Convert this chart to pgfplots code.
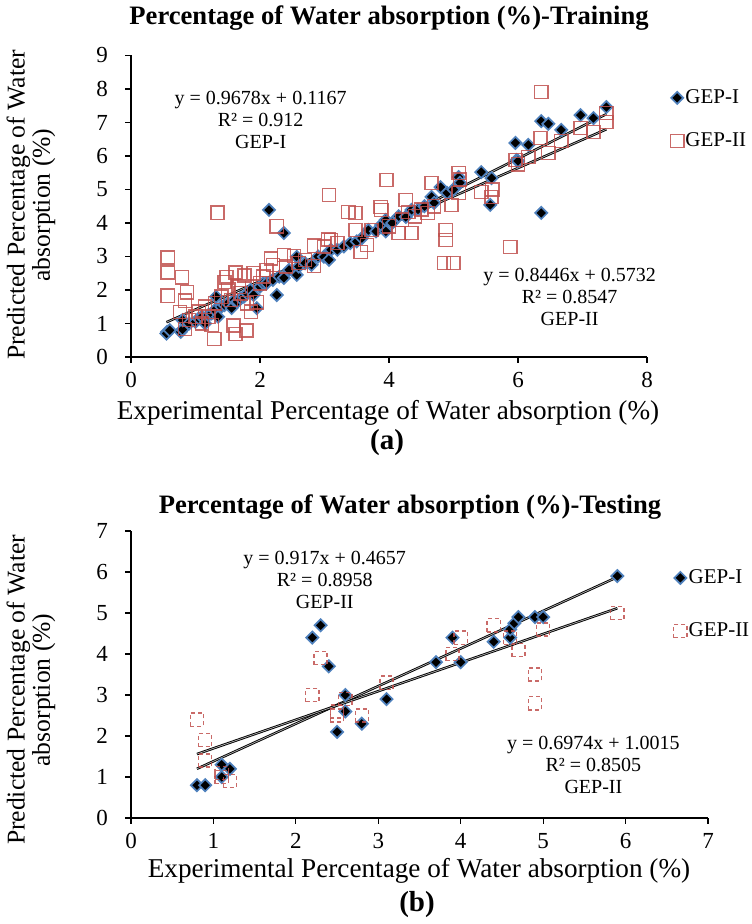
\documentclass[border=0pt]{standalone}
\usepackage{fontspec}
\setmainfont{Liberation Serif}
\usepackage{pgfplots}
\usepackage{pgfplotstable}
\pgfplotsset{compat=1.18}
\definecolor{gepblue}{RGB}{79,129,189}
\definecolor{gepred}{RGB}{192,80,77}

\pgfplotstableread{
x y
0.56 0.75
0.55 0.70
0.60 0.80
0.77 0.75
0.80 0.82
0.80 1.10
0.90 1.00
1.00 1.05
1.05 1.15
1.10 1.20
1.15 1.00
1.20 1.25
1.25 1.30
1.30 1.40
1.32 1.80
1.35 1.20
1.40 1.50
1.45 1.55
1.50 1.60
1.56 1.46
1.60 1.70
1.65 1.65
1.70 1.75
1.75 1.80
1.80 1.90
1.85 2.00
1.90 1.85
1.95 1.46
2.00 2.10
2.05 2.20
2.10 2.20
2.14 4.39
2.20 2.30
2.26 1.85
2.30 2.40
2.37 3.70
2.37 2.36
2.45 2.60
2.57 2.99
2.57 2.45
2.60 2.70
2.70 2.80
2.80 2.75
2.90 3.00
2.99 2.99
3.07 2.90
3.10 3.20
3.20 3.20
3.30 3.30
3.40 3.40
3.50 3.45
3.58 3.55
3.68 3.79
3.80 3.75
3.88 3.94
3.95 4.09
3.95 3.75
4.05 4.00
4.15 4.20
4.26 4.18
4.35 4.39
4.45 4.40
4.55 4.50
4.66 4.78
4.70 4.60
4.80 5.07
4.90 4.90
5.00 5.00
5.08 5.37
5.10 5.20
5.43 5.52
5.59 5.34
5.57 4.54
5.96 6.39
5.98 5.88
6.00 5.85
6.16 6.33
6.36 7.04
6.47 6.96
6.36 4.30
6.67 6.78
6.97 7.22
7.17 7.13
7.37 7.46
}\trainI

\pgfplotstableread{
x y
0.57 2.97
0.57 2.52
0.57 1.83
0.79 2.38
0.87 1.93
0.84 1.68
0.76 1.34
0.84 0.84
0.90 1.10
1.00 1.20
1.05 1.35
1.10 1.00
1.15 1.50
1.20 1.20
1.25 0.95
1.29 0.54
1.30 1.60
1.34 4.31
1.40 1.80
1.45 2.24
1.48 2.38
1.51 2.03
1.55 1.70
1.59 0.94
1.62 0.69
1.62 2.52
1.67 2.10
1.70 1.90
1.76 2.43
1.79 0.79
1.80 1.60
1.86 1.35
1.90 2.50
1.95 1.63
2.00 2.20
2.05 2.40
2.10 2.60
2.17 2.94
2.20 2.75
2.26 3.90
2.37 3.04
2.40 2.70
2.53 3.02
2.60 2.80
2.70 2.90
2.84 3.32
2.84 2.72
2.99 3.30
3.06 3.51
3.07 4.84
3.10 3.49
3.20 3.40
3.37 4.33
3.48 4.30
3.48 3.79
3.56 3.13
3.66 3.34
3.73 3.79
3.87 4.48
3.88 4.39
3.96 5.28
4.00 3.90
4.15 3.70
4.20 4.10
4.26 4.69
4.30 4.33
4.35 3.70
4.40 4.20
4.50 4.40
4.60 4.30
4.66 5.19
4.70 4.50
4.85 2.80
4.88 3.79
4.88 3.49
4.97 4.54
5.00 2.80
5.08 5.49
5.08 4.90
5.10 5.30
5.43 4.92
5.59 4.78
5.60 5.00
5.88 3.28
5.96 5.88
6.00 5.75
6.16 5.97
6.35 6.54
6.36 7.91
6.47 6.09
6.67 6.45
6.97 6.84
7.17 6.72
7.37 7.28
7.37 7.01
}\trainII

\pgfplotstableread{
x y
0.8 0.8
0.9 0.8
1.1 1.3
1.2 1.2
1.1 1.0
2.2 4.4
2.3 4.7
2.4 3.7
2.6 3.0
2.6 2.6
2.5 2.1
2.8 2.3
3.1 2.9
3.7 3.8
3.9 4.4
4.0 3.8
4.4 4.3
4.6 4.4
4.6 4.6
4.65 4.75
4.7 4.9
4.9 4.9
5.0 4.9
5.9 5.9
}\testI

\pgfplotstableread{
x y
0.8 2.4
0.9 1.9
0.9 1.4
1.1 1.0
1.2 0.9
1.1 1.1
2.2 3.0
2.3 3.9
2.5 2.6
2.6 2.9
2.5 2.5
2.8 2.5
3.1 3.3
3.9 4.0
4.0 4.4
4.4 4.7
4.6 4.4
4.7 4.1
4.9 3.5
4.9 2.8
5.0 4.6
5.9 5.0
}\testII

\pgfplotsset{
  excel/.style={
    scale only axis,
    axis x line*=bottom, axis y line*=left,
    x axis line style={line width=0.9pt},
    y axis line style={line width=1.3pt},
    tick align=outside, major tick length=3pt,
    tick style={black, line width=0.6pt},
    ticklabel style={font=\fontsize{11.5}{13}\selectfont},
    yticklabel style={xshift=-5pt},
    xticklabel style={yshift=-1pt},
    /pgf/number format/assume math mode=true,
    clip=false,
    legend cell align=left,
    legend style={draw=none, fill=none, anchor=west,
      font=\fontsize{10.5}{12}\selectfont,
      inner sep=0pt, nodes={inner sep=0.8pt}},
  },
  diam/.style={only marks, mark=square*, mark size=2.15pt,
    mark options={rotate=45, fill=black, draw=gepblue, line width=0.85pt},
    legend image code/.code={\draw[##1] plot coordinates {(0cm,0cm)};}},
  sqr/.style={only marks, mark=square, mark size=3.3pt,
    mark options={draw=gepred, line width=0.7pt, draw opacity=0.85},
    legend image code/.code={\draw[##1] plot coordinates {(0cm,0cm)};}},
  sqrd/.style={only marks, mark=square, mark size=3.3pt,
    mark options={draw=gepred, line width=0.7pt, draw opacity=0.85, dash pattern=on 2pt off 1.5pt},
    legend image code/.code={\draw[##1] plot coordinates {(0cm,0cm)};}},
  trend/.style={black, line width=0.45pt, double=gray!60, double distance=0.35pt, forget plot},
}

\begin{document}
\begin{tikzpicture}
\path[use as bounding box] (0,0) rectangle (375.5pt,462pt);

% ---------------- panel (a)
\begin{axis}[excel,
  at={(65.5pt,283.5pt)}, anchor=south west,
  width=258pt, height=150.75pt,
  xmin=0, xmax=8, ymin=0, ymax=9,
  xtick={0,2,4,6,8}, ytick={0,1,...,9},
  legend style={at={(1.045,0.788)}, row sep=11.5pt},
]
\addplot[diam] table[x=x,y=y] {\trainI};
\addlegendentry{GEP-I}
\addplot[sqr] table[x=x,y=y] {\trainII};
\addlegendentry{GEP-II}
\addplot[trend] coordinates {(0.55,0.649) (7.37,7.249)};
\addplot[trend] coordinates {(0.55,1.038) (7.37,6.798)};
\node[align=center, font=\fontsize{10}{11}\selectfont] at (axis cs:2.01,7.07)
  {y = 0.9678x + 0.1167\\R² = 0.912\\GEP-I};
\node[align=center, font=\fontsize{10}{11}\selectfont] at (axis cs:6.8,1.8)
  {y = 0.8446x + 0.5732\\R² = 0.8547\\GEP-II};
\end{axis}

% ---------------- panel (b)
\begin{axis}[excel,
  at={(65.5pt,53pt)}, anchor=south west,
  width=288.5pt, height=143.5pt,
  xmin=0, xmax=7, ymin=0, ymax=7,
  xtick={0,1,...,7}, ytick={0,1,...,7},
  legend style={at={(0.94,0.744)}, row sep=16.5pt},
]
\addplot[diam] table[x=x,y=y] {\testI};
\addlegendentry{GEP-I}
\addplot[sqrd] table[x=x,y=y] {\testII};
\addlegendentry{GEP-II}
\addplot[trend] coordinates {(0.8,1.2) (5.9,5.876)};
\addplot[trend] coordinates {(0.8,1.559) (5.9,5.116)};
\node[align=center, font=\fontsize{10}{11}\selectfont] at (axis cs:2.35,5.8)
  {y = 0.917x + 0.4657\\R² = 0.8958\\GEP-II};
\node[align=center, font=\fontsize{10}{11}\selectfont] at (axis cs:5.61,1.29)
  {y = 0.6974x + 1.0015\\R² = 0.8505\\GEP-II};
\end{axis}

% titles and labels
\node[font=\bfseries\fontsize{13.3}{15}\selectfont] at (194.5pt,453pt)
  {Percentage of Water absorption (\%)-Training};
\node[font=\bfseries\fontsize{13.3}{15}\selectfont] at (205pt,208.5pt)
  {Percentage of Water absorption (\%)-Testing};
\node[rotate=90, align=center, font=\fontsize{12.8}{11.5}\selectfont] at (15.5pt,359.5pt)
  {Predicted Percentage of Water\\absorption (\%)};
\node[rotate=90, align=center, font=\fontsize{12.8}{11.5}\selectfont] at (15.5pt,117pt)
  {Predicted Percentage of Water\\absorption (\%)};
\node[font=\fontsize{13.6}{15}\selectfont] at (194pt,255.5pt)
  {Experimental Percentage of Water absorption (\%)};
\node[font=\bfseries\fontsize{14.5}{16}\selectfont] at (193.5pt,240.5pt) {(a)};
\node[font=\fontsize{13.6}{15}\selectfont] at (209.5pt,26.5pt)
  {Experimental Percentage of Water absorption (\%)};
\node[font=\bfseries\fontsize{14.5}{16}\selectfont] at (208.5pt,9.5pt) {(b)};
\end{tikzpicture}
\end{document}
